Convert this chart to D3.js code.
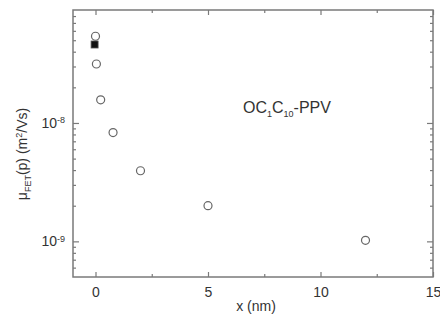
<!DOCTYPE html>
<html>
<head>
<meta charset="utf-8">
<script src="https://cdn.jsdelivr.net/npm/d3@7/dist/d3.min.js"></script>
<style>
  html, body { margin: 0; padding: 0; background: #fff; }
  svg { display: block; }
  text { font-family: "Liberation Sans", Arial, sans-serif; fill: #333; }
</style>
</head>
<body>
<svg id="chart" width="440" height="320"></svg>
<script>
// ---- data ----
const xOpen = [0, 0.04, 0.23, 0.78, 2, 5, 12];
const yOpen = [5.4e-8, 3.15e-8, 1.57e-8, 8.3e-9, 3.95e-9, 2.0e-9, 1.02e-9];
const xFilled = [-0.04];
const yFilled = [4.6e-8];
const xMajorTicks = [0, 5, 10, 15];
const xMinorTicks = [2.5, 7.5, 12.5];
const yMajorTicks = [1e-9, 1e-8];
const yMinorTicks = [6e-10, 7e-10, 8e-10, 9e-10, 2e-9, 3e-9, 4e-9, 5e-9, 6e-9, 7e-9, 8e-9, 9e-9,
                     2e-8, 3e-8, 4e-8, 5e-8, 6e-8, 7e-8, 8e-8];
const xDomain = [-1, 15];
const yDomain = [5e-10, 9e-8];
const annotation = ["OC", "1", "C", "10", "-PPV"];

// ---- layout ----
const L = 73, R = 433, T = 10, B = 277;
const svg = d3.select("#chart");
const x = d3.scaleLinear().domain(xDomain).range([L, R]);
const y = d3.scaleLog().domain(yDomain).range([B, T]);
const axisColor = "#7a7a7a";

function styleAxis(g) {
  g.select(".domain").remove();
  g.selectAll(".tick line").attr("stroke", axisColor).attr("stroke-width", 1.2);
}

// bottom major with labels
svg.append("g").attr("transform", `translate(0,${B})`)
  .call(d3.axisBottom(x).tickValues(xMajorTicks).tickSizeInner(-5).tickSizeOuter(0).tickPadding(10).tickFormat(d3.format("d")))
  .call(styleAxis)
  .call(g => g.selectAll("text").attr("font-size", 14).attr("fill", "#333").style("font-family", "Liberation Sans, Arial, sans-serif"));
svg.append("g").attr("transform", `translate(0,${B})`)
  .call(d3.axisBottom(x).tickValues(xMinorTicks).tickSizeInner(-3).tickSizeOuter(0).tickFormat(""))
  .call(styleAxis);
// top
svg.append("g").attr("transform", `translate(0,${T})`)
  .call(d3.axisTop(x).tickValues(xMajorTicks).tickSizeInner(-5).tickSizeOuter(0).tickFormat(""))
  .call(styleAxis);
svg.append("g").attr("transform", `translate(0,${T})`)
  .call(d3.axisTop(x).tickValues(xMinorTicks).tickSizeInner(-3).tickSizeOuter(0).tickFormat(""))
  .call(styleAxis);

// left
svg.append("g").attr("transform", `translate(${L},0)`)
  .call(d3.axisLeft(y).tickValues(yMajorTicks).tickSizeInner(-6).tickSizeOuter(0).tickPadding(8).tickFormat(""))
  .call(styleAxis)
  .call(g => g.selectAll(".tick").each(function(d) {
    const t = d3.select(this).append("text")
      .attr("x", -8).attr("dy", "0.32em").attr("text-anchor", "end")
      .attr("font-size", 14).attr("fill", "#333");
    t.append("tspan").text("10");
    t.append("tspan").attr("dy", "-0.5em").attr("font-size", 9).text(String(Math.round(Math.log10(d))));
  }));
svg.append("g").attr("transform", `translate(${L},0)`)
  .call(d3.axisLeft(y).tickValues(yMinorTicks).tickSizeInner(-3).tickSizeOuter(0).tickFormat(""))
  .call(styleAxis);
// right
svg.append("g").attr("transform", `translate(${R},0)`)
  .call(d3.axisRight(y).tickValues(yMajorTicks).tickSizeInner(-6).tickSizeOuter(0).tickFormat(""))
  .call(styleAxis);
svg.append("g").attr("transform", `translate(${R},0)`)
  .call(d3.axisRight(y).tickValues(yMinorTicks).tickSizeInner(-3).tickSizeOuter(0).tickFormat(""))
  .call(styleAxis);

// frame
svg.append("rect").attr("x", L).attr("y", T).attr("width", R - L).attr("height", B - T)
  .attr("fill", "none").attr("stroke", axisColor).attr("stroke-width", 1.5);

// points
svg.append("g").selectAll("circle").data(xOpen.map((d, i) => [d, yOpen[i]])).join("circle")
  .attr("cx", d => x(d[0])).attr("cy", d => y(d[1])).attr("r", 4)
  .attr("fill", "none").attr("stroke", "#666").attr("stroke-width", 1.2);
svg.append("g").selectAll("rect").data(xFilled.map((d, i) => [d, yFilled[i]])).join("rect")
  .attr("x", d => x(d[0]) - 3.5).attr("y", d => y(d[1]) - 3.5).attr("width", 7).attr("height", 7)
  .attr("fill", "#111").attr("stroke", "#555").attr("stroke-width", 0.8);

// annotation
const ann = svg.append("text").attr("x", 243).attr("y", 113).attr("font-size", 16).attr("fill", "#333");
annotation.forEach((s, i) => {
  const sub = i % 2 === 1;
  ann.append("tspan").attr("font-size", sub ? 9 : 16).attr("dy", sub ? 4 : (i > 0 ? -4 : 0)).text(s);
});

// axis titles
svg.append("text").attr("x", 256).attr("y", 311).attr("text-anchor", "middle").attr("font-size", 14).text("x (nm)");
const yt = svg.append("text").attr("transform", "translate(27,154) rotate(-90)")
  .attr("text-anchor", "middle").attr("font-size", 14);
yt.append("tspan").text("μ");
yt.append("tspan").attr("font-size", 9).attr("dy", 4).text("FET");
yt.append("tspan").attr("dy", -4).text("(p) (m");
yt.append("tspan").attr("font-size", 9).attr("dy", -5).text("2");
yt.append("tspan").attr("dy", 5).text("/Vs)");
</script>
</body>
</html>
